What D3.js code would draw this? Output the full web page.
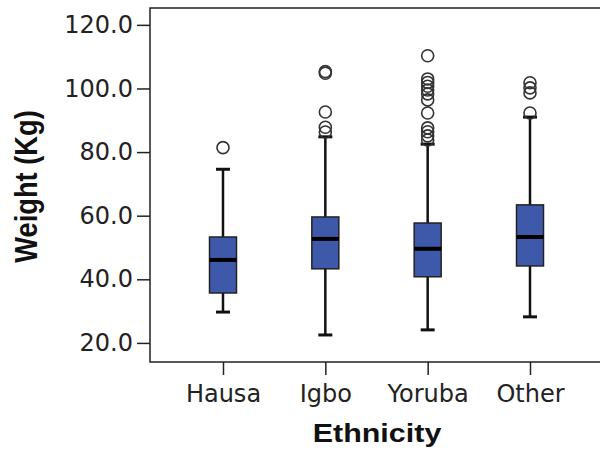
<!DOCTYPE html>
<html>
<head>
<meta charset="utf-8">
<script src="https://cdn.jsdelivr.net/npm/d3@7"></script>
<style>
  body { margin: 0; background: #fff; }
  svg { display: block; }
</style>
</head>
<body>
<svg width="600" height="453"></svg>
<script>
var categories = ["Hausa", "Igbo", "Yoruba", "Other"];
var whiskerLow = [29.7, 22.5, 24.1, 28.2];
var q1 = [35.7, 43.3, 40.8, 44.2];
var median = [46.1, 52.7, 49.6, 53.3];
var q3 = [53.3, 59.6, 57.7, 63.4];
var whiskerHigh = [74.6, 84.8, 82.5, 91.0];
var outliers = [
  [81.4],
  [105.3, 104.8, 92.6, 87.8, 86.3],
  [110.3, 103.0, 101.9, 100.7, 99.5, 98.3, 96.4, 92.3, 87.6, 86.4, 85.1, 83.8],
  [101.8, 100.2, 98.6, 92.3]
];
var yTicks = [20, 40, 60, 80, 100, 120];

var svg = d3.select("svg"),
    plotLeft = 150, plotTop = 8, plotBottom = 362, plotRight = 640,
    boxWidth = 27, capWidth = 14;

var y = d3.scaleLinear().domain([14, 125.3]).range([plotBottom, plotTop]);
var x = d3.scalePoint().domain(categories).range([223, 530]);

// frame
svg.append("rect")
    .attr("x", plotLeft).attr("y", plotTop)
    .attr("width", plotRight - plotLeft).attr("height", plotBottom - plotTop)
    .attr("fill", "none").attr("stroke", "#222").attr("stroke-width", 1.5);

var yAxis = svg.append("g")
    .attr("transform", "translate(" + plotLeft + ",0)")
    .call(d3.axisLeft(y).tickValues(yTicks).tickFormat(d3.format(".1f")).tickSize(13).tickPadding(4));

var xAxis = svg.append("g")
    .attr("transform", "translate(0," + plotBottom + ")")
    .call(d3.axisBottom(x).tickSize(13).tickPadding(10));

[yAxis, xAxis].forEach(function(g) {
  g.select(".domain").remove();
  g.selectAll(".tick line").attr("stroke", "#222").attr("stroke-width", 1.5);
  g.selectAll(".tick text")
      .attr("fill", "#222")
      .style("font-family", "'DejaVu Sans'")
      .style("font-size", "24px");
});

var rows = categories.map(function(c, i) {
  return {c: c, lo: whiskerLow[i], q1: q1[i], med: median[i], q3: q3[i], hi: whiskerHigh[i], out: outliers[i]};
});

var g = svg.append("g").selectAll("g").data(rows).enter().append("g");

// whiskers
g.append("line")
    .attr("x1", function(d) { return x(d.c); })
    .attr("x2", function(d) { return x(d.c); })
    .attr("y1", function(d) { return y(d.lo); })
    .attr("y2", function(d) { return y(d.hi); })
    .attr("stroke", "#111").attr("stroke-width", 2.5);

g.selectAll(".cap")
    .data(function(d) { return [{c: d.c, v: d.lo}, {c: d.c, v: d.hi}]; })
  .enter().append("line")
    .attr("x1", function(d) { return x(d.c) - capWidth / 2; })
    .attr("x2", function(d) { return x(d.c) + capWidth / 2; })
    .attr("y1", function(d) { return y(d.v); })
    .attr("y2", function(d) { return y(d.v); })
    .attr("stroke", "#111").attr("stroke-width", 3);

g.append("rect")
    .attr("x", function(d) { return x(d.c) - boxWidth / 2; })
    .attr("y", function(d) { return y(d.q3); })
    .attr("width", boxWidth)
    .attr("height", function(d) { return y(d.q1) - y(d.q3); })
    .attr("fill", "#3f59aa").attr("stroke", "#222").attr("stroke-width", 1.5);

g.append("line")
    .attr("x1", function(d) { return x(d.c) - boxWidth / 2; })
    .attr("x2", function(d) { return x(d.c) + boxWidth / 2; })
    .attr("y1", function(d) { return y(d.med); })
    .attr("y2", function(d) { return y(d.med); })
    .attr("stroke", "#000").attr("stroke-width", 4);

g.selectAll("circle")
    .data(function(d) { return d.out.map(function(v) { return {c: d.c, v: v}; }); })
  .enter().append("circle")
    .attr("cx", function(d) { return x(d.c); })
    .attr("cy", function(d) { return y(d.v); })
    .attr("r", 6)
    .attr("fill", "none").attr("stroke", "#333").attr("stroke-width", 1.6);

// titles
svg.append("text")
    .attr("transform", "translate(377,442) scale(1.15,1)")
    .attr("text-anchor", "middle")
    .style("font-family", "'Liberation Sans', Arial, sans-serif")
    .style("font-weight", "bold")
    .style("font-size", "26.5px")
    .attr("fill", "#111")
    .text("Ethnicity");

svg.append("text")
    .attr("transform", "translate(37,186.5) scale(1.18,1) rotate(-90)")
    .attr("text-anchor", "middle")
    .style("font-family", "'Liberation Sans', Arial, sans-serif")
    .style("font-weight", "bold")
    .style("font-size", "27.3px")
    .attr("fill", "#111")
    .text("Weight (Kg)");
</script>
</body>
</html>
